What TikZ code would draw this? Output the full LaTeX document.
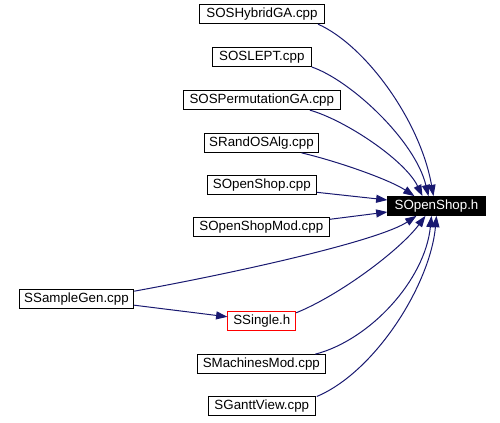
\documentclass[tikz,border=0pt]{standalone}
\usepackage{fontspec}
\setmainfont{Liberation Sans}
\usetikzlibrary{arrows.meta,calc}
\definecolor{edgeblue}{HTML}{191970}
\begin{document}
\begin{tikzpicture}[x=0.75pt,y=-0.75pt,
  filebox/.style={draw=black,line width=0.75pt,fill=white,inner sep=0pt,minimum height=14pt,font=\fontsize{10}{12}\selectfont},
  hbox/.style={filebox,fill=black,text=white},
  redbox/.style={filebox,draw=red},
  edge/.style={draw=edgeblue,line width=0.75pt,-{Triangle[length=8.5pt,width=6pt]}}]
\useasboundingbox (0,0) rectangle (500,422);
\node[filebox,minimum width=94pt] (hyb) at (262,14.3) {SOSHybridGA.cpp};
\node[filebox,minimum width=74.3pt] (lept) at (261.8,57.2) {SOSLEPT.cpp};
\node[filebox,minimum width=117.8pt] (perm) at (261.8,100.3) {SOSPermutationGA.cpp};
\node[filebox,minimum width=85.8pt] (rand) at (261.5,143) {SRandOSAlg.cpp};
\node[filebox,minimum width=81.8pt] (osc) at (261.8,184.8) {SOpenShop.cpp};
\node[hbox,minimum width=72.8pt] (h) at (436.5,206) {SOpenShop.h};
\node[filebox,minimum width=102pt] (mod) at (261.3,227.3) {SOpenShopMod.cpp};
\node[filebox,minimum width=85.8pt] (gen) at (76.5,298.7) {SSampleGen.cpp};
\node[redbox,minimum width=50.8pt] (single) at (261.8,320.8) {SSingle.h};
\node[filebox,minimum width=96pt] (mach) at (261.3,364) {SMachinesMod.cpp};
\node[filebox,minimum width=80.3pt] (gantt) at (261.8,406.3) {SGanttView.cpp};

\draw[edge] ($(hyb.south)+(56,0)$) .. controls (365,45) and (420,120) .. ($(h.north)+(-3,0)$);
\draw[edge] (lept.south east) .. controls (350,80) and (415,140) .. ($(h.north)+(-8,0)$);
\draw[edge] ($(perm.south)+(48,0)$) .. controls (345,120) and (405,160) .. ($(h.north)+(-14,0)$);
\draw[edge] ($(rand.south)+(40,0)$) .. controls (340,162) and (390,180) .. ($(h.north)+(-22,0)$);
\draw[edge] ($(osc.east)+(0,7.5)$) -- ($(h.west)+(0,-6)$);
\draw[edge] ($(mod.east)+(0,-8)$) -- ($(h.west)+(0,6)$);
\draw[edge] ($(gen.east)+(0,-7.5)$) .. controls (250,270) and (380,240) .. ($(h.south)+(-20,0)$);
\draw[edge] ($(gen.east)+(0,6.5)$) -- ($(single.west)+(0,-4)$);
\draw[edge] ($(single.east)+(0,-8)$) .. controls (340,295) and (400,250) .. ($(h.south)+(-11,0)$);
\draw[edge] ($(mach.north)+(54,0)$) .. controls (370,340) and (425,280) .. ($(h.south)+(-5,0)$);
\draw[edge] ($(gantt.north)+(55,0)$) .. controls (375,372) and (430,285) .. ($(h.south)+(0,0)$);
\end{tikzpicture}
\end{document}
